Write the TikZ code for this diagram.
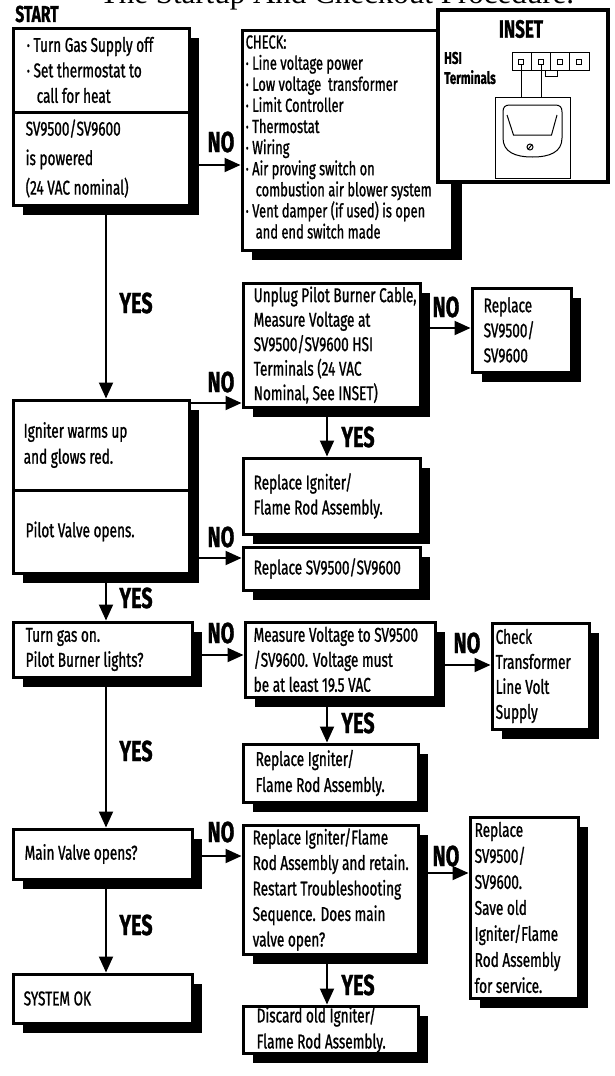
\documentclass[tikz,border=0pt]{standalone}
\usepackage{fontspec}
\setmainfont{Fira Sans}[FakeStretch=0.68,FakeBold=1]
\newfontfamily\titlefont{Liberation Serif}
\usetikzlibrary{shadows,arrows.meta}
\begin{document}
\begin{tikzpicture}[x=1pt,y=-1pt,
  bx/.style={draw, line width=3pt, fill=white, inner sep=0pt,
    drop shadow={shadow xshift=10pt, shadow yshift=-10pt, fill=black, opacity=1}},
  txt/.style={align=left, inner sep=0pt, anchor=west, font=\fontsize{20}{25.5}\selectfont},
  lbl/.style={inner sep=0pt, font=\fontsize{29}{29}\selectfont\bfseries},
  arr/.style={line width=2pt, -{Triangle[length=16pt,width=14pt]}},
  thinline/.style={line width=1pt}
]
\useasboundingbox (0,0) rectangle (615,1076);

% title (cut off at the top, as in the reference)
\node[anchor=base, inner sep=0pt, font=\titlefont\fontsize{31}{31}\selectfont] (title) at (337,4) {The Startup And Checkout Procedure.};
\node[lbl, font=\fontsize{23}{23}\selectfont\bfseries] (start) at (37,14) {START};

% boxes
\node[bx, minimum width=176pt, minimum height=84pt] (b1a) at (101,70) {};
\node[bx, minimum width=176pt, minimum height=93pt] (b1b) at (101,158.5) {};
\node[bx, minimum width=210pt, minimum height=220pt] (check) at (347,140) {};
\node[draw, line width=4pt, fill=white, inner sep=0pt, minimum width=170pt, minimum height=172pt] (inset) at (523,96) {};
\node[bx, minimum width=177pt, minimum height=124pt] (unplug) at (331.5,345) {};
\node[bx, minimum width=99pt, minimum height=84pt] (rep1) at (521.5,330) {};
\node[bx, minimum width=176pt, minimum height=90pt] (b2a) at (101,445) {};
\node[bx, minimum width=176pt, minimum height=83pt] (b2b) at (101,531.5) {};
\node[bx, minimum width=177pt, minimum height=76pt] (ign1) at (331.5,496) {};
\node[bx, minimum width=177pt, minimum height=43pt] (repsv) at (331.5,568.5) {};
\node[bx, minimum width=179pt, minimum height=55pt] (b3) at (102.5,649.5) {};
\node[bx, minimum width=190pt, minimum height=75pt] (measure) at (340,659.5) {};
\node[bx, minimum width=97pt, minimum height=106pt] (chk) at (540.5,676) {};
\node[bx, minimum width=175pt, minimum height=58pt] (ign2) at (330.5,773) {};
\node[bx, minimum width=179pt, minimum height=50pt] (b4) at (102.5,854) {};
\node[bx, minimum width=175pt, minimum height=129pt] (big) at (330.5,889.5) {};
\node[bx, minimum width=108pt, minimum height=181pt] (rbig) at (524,907.5) {};
\node[bx, minimum width=175pt, minimum height=47pt] (discard) at (330.5,1029.5) {};
\node[bx, minimum width=179pt, minimum height=49pt] (sysok) at (102.5,998.5) {};

% texts
\node[txt] (t1a) at ([xshift=15pt]b1a.west) {· Turn Gas Supply off\\· Set thermostat to\\\hspace*{10pt}call for heat};
\node[txt, font=\fontsize{20}{29.5}\selectfont] (t1b) at ([xshift=14pt]b1b.west) {SV9500/SV9600\\is powered\\(24 VAC nominal)};
\node[txt, font=\fontsize{19}{21.1}\selectfont] (tcheck) at ([xshift=5pt,yshift=3pt]check.west) {CHECK:\\· Line voltage power\\· Low voltage\ \ transformer\\· Limit Controller\\· Thermostat\\· Wiring\\· Air proving switch on\\\hspace*{10pt}combustion air blower system\\· Vent damper (if used) is open\\\hspace*{10pt}and end switch made};
\node[txt, font=\fontsize{20}{24.5}\selectfont] (tunplug) at ([xshift=12pt]unplug.west) {Unplug Pilot Burner Cable,\\Measure Voltage at\\SV9500/SV9600 HSI\\Terminals (24 VAC\\Nominal, See INSET)};
\node[txt, font=\fontsize{20}{25}\selectfont] (trep1) at ([xshift=13pt]rep1.west) {Replace\\SV9500/\\SV9600};
\node[txt, font=\fontsize{20}{26}\selectfont] (t2a) at ([xshift=12pt]b2a.west) {Igniter warms up\\and glows red.};
\node[txt] (t2b) at ([xshift=14pt]b2b.west) {Pilot Valve opens.};
\node[txt, font=\fontsize{20}{25}\selectfont] (tign1) at ([xshift=12pt]ign1.west) {Replace Igniter/\\Flame Rod Assembly.};
\node[txt] (trepsv) at ([xshift=12pt]repsv.west) {Replace SV9500/SV9600};
\node[txt, font=\fontsize{20}{25}\selectfont] (t3) at ([xshift=14pt]b3.west) {Turn gas on.\\Pilot Burner lights?};
\node[txt, font=\fontsize{20}{25}\selectfont] (tmeasure) at ([xshift=10pt]measure.west) {Measure Voltage to SV9500\\/SV9600. Voltage must\\be at least 19.5 VAC};
\node[txt, font=\fontsize{20}{25}\selectfont] (tchk) at ([xshift=5pt]chk.west) {Check\\Transformer\\Line Volt\\Supply};
\node[txt, font=\fontsize{20}{26}\selectfont] (tign2) at ([xshift=14pt]ign2.west) {Replace Igniter/\\Flame Rod Assembly.};
\node[txt] (t4) at ([xshift=13pt]b4.west) {Main Valve opens?};
\node[txt] (tbig) at ([xshift=11pt]big.west) {Replace Igniter/Flame\\Rod Assembly and retain.\\Restart Troubleshooting\\Sequence. Does main\\valve open?};
\node[txt, font=\fontsize{20}{26}\selectfont] (trbig) at ([xshift=6pt]rbig.west) {Replace\\SV9500/\\SV9600.\\Save old\\Igniter/Flame\\Rod Assembly\\for service.};
\node[txt, font=\fontsize{20}{26}\selectfont] (tdiscard) at ([xshift=15pt]discard.west) {Discard old Igniter/\\Flame Rod Assembly.};
\node[txt] (tsysok) at ([xshift=12pt]sysok.west) {SYSTEM OK};

% inset contents
\node[lbl, font=\fontsize{25}{25}\selectfont\bfseries] (insett) at (521,29) {INSET};
\node[inner sep=0pt, anchor=west, align=left, font=\fontsize{17}{20}\selectfont\bfseries] (hsi) at (444,68) {HSI\\Terminals};
\draw[thinline] (512,52) rectangle (589,70);
\draw[thinline] (531.5,52) -- (531.5,70) (550.5,52) -- (550.5,70) (569.5,52) -- (569.5,70);
\foreach \tx in {521,541,560,579} {\draw[line width=0.8pt] (\tx-2.5,59.5) rectangle (\tx+2.5,64.5);}
\draw[thinline] (545,70) rectangle (557,76);
\draw[thinline] (521,64.5) -- (521,97) (541,64.5) -- (541,97);
\draw[thinline] (495,97) rectangle (570,178);
\draw[thinline] (503,112) -- (503,138) .. controls (503,152) and (515,157) .. (532.5,157)
  .. controls (550,157) and (562,152) .. (562,138) -- (562,112)
  .. controls (562,107) and (560,105) .. (555,105) -- (510,105)
  .. controls (505,105) and (503,107) .. (503,112) -- cycle;
\draw[thinline] (507,115) -- (513.5,135) -- (551.5,135) -- (557,115);
\draw[thinline] (530,147) circle (3);
\draw[thinline] (528,149.5) -- (532,144.5);

% connectors
\draw[arr] ([yshift=-6.5pt]b1b.east) -- ([yshift=-6.5pt]b1b.east -| check.west);
\draw[arr] ([xshift=5pt]b1b.south) -- ([xshift=5pt]b1b.south |- b2a.north);
\draw[arr] ([yshift=42pt]b2a.east) -- ([yshift=42pt]b2a.east -| unplug.west);
\draw[arr] ([yshift=17pt]unplug.east) -- ([yshift=17pt]unplug.east -| rep1.west);
\draw[arr] ([xshift=-4.5pt]unplug.south) -- ([xshift=-4.5pt]unplug.south |- ign1.north);
\draw[arr] ([yshift=-26.5pt]b2b.east) -- ([yshift=-26.5pt]b2b.east -| repsv.west);
\draw[arr] ([xshift=5pt]b2b.south) -- ([xshift=5pt]b2b.south |- b3.north);
\draw[arr] ([yshift=-5.5pt]b3.east) -- ([yshift=-5.5pt]b3.east -| measure.west);
\draw[arr] ([yshift=-5.5pt]measure.east) -- ([yshift=-5.5pt]measure.east -| chk.west);
\draw[arr] ([xshift=-13pt]measure.south) -- ([xshift=-13pt]measure.south |- ign2.north);
\draw[arr] ([xshift=3.5pt]b3.south) -- ([xshift=3.5pt]b3.south |- b4.north);
\draw[arr] ([yshift=-2pt]b4.east) -- ([yshift=-2pt]b4.east -| big.west);
\draw[arr] ([yshift=16.5pt]big.east) -- ([yshift=16.5pt]big.east -| rbig.west);
\draw[arr] ([xshift=-3.5pt]big.south) -- ([xshift=-3.5pt]big.south |- discard.north);
\draw[arr] ([xshift=3.5pt]b4.south) -- ([xshift=3.5pt]b4.south |- sysok.north);

% labels
\node[lbl] (no1) at (221,142) {NO};
\node[lbl] (no2) at (221,382) {NO};
\node[lbl] (no3) at (446,307) {NO};
\node[lbl] (no4) at (221,537) {NO};
\node[lbl] (no5) at (221,633) {NO};
\node[lbl] (no6) at (467,643) {NO};
\node[lbl] (no7) at (221,832) {NO};
\node[lbl] (no8) at (446,856) {NO};
\node[lbl] (yes1) at (136,303) {YES};
\node[lbl] (yes2) at (358,437) {YES};
\node[lbl] (yes3) at (136,598) {YES};
\node[lbl] (yes4) at (358,723) {YES};
\node[lbl] (yes5) at (136,751) {YES};
\node[lbl] (yes6) at (358,985) {YES};
\node[lbl] (yes7) at (136,925) {YES};
\end{tikzpicture}
\end{document}
